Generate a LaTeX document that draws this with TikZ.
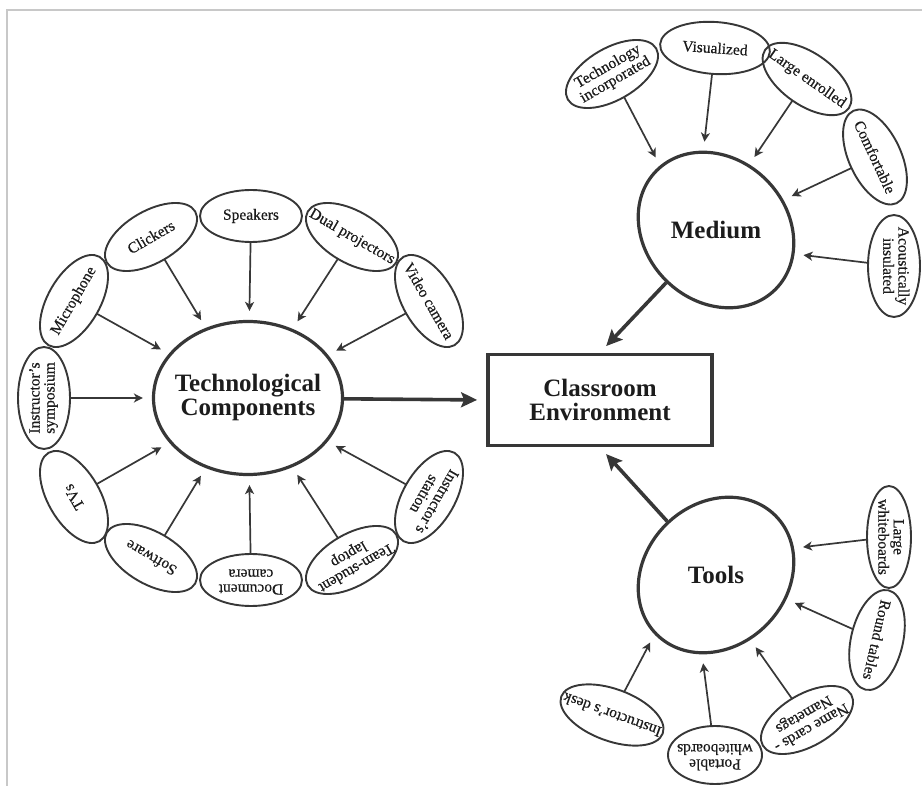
\documentclass[tikz,border=0pt]{standalone}
\usepackage{fontspec}
\setmainfont{Liberation Serif}
\newfontfamily\satf{Liberation Serif}[FakeBold=0.5]
\usetikzlibrary{shapes.geometric,arrows.meta}
\definecolor{ink}{RGB}{55,55,55}
\definecolor{txt}{RGB}{28,28,28}
\definecolor{framec}{RGB}{200,200,200}
\newcommand\onel[1]{\makebox[0pt]{#1}}
\newcommand\twol[2]{\makebox[0pt]{\begin{tabular}{@{}c@{}}#1\\#2\end{tabular}}}
\begin{document}
\begin{tikzpicture}[x=1pt,y=-1pt,
  sat/.style={ellipse, draw=ink, line width=1.9pt, inner sep=0pt, outer sep=0pt,
    minimum width=102pt, minimum height=52pt, text=txt,
    font=\satf\fontsize{15.5}{15}\selectfont},
  hub/.style={ellipse, draw=ink, line width=3.2pt, inner sep=0pt, text=txt,
    font=\bfseries\fontsize{25}{24}\selectfont},
  hubtext/.style={text=txt, inner sep=0pt, font=\bfseries\fontsize{25}{24}\selectfont},
  arr/.style={draw=ink, line width=1.7pt, -{Stealth[length=9pt,width=9pt,inset=2.5pt]}, shorten >=9pt},
  bigarr/.style={draw=ink, line width=3.6pt, -{Stealth[length=16pt,width=15pt,inset=3pt]}, shorten >=9pt},
]
\useasboundingbox (0,0) rectangle (922,786);
\draw[framec, line width=1.5pt] (7,786) -- (7,10) -- (922,10);

% hubs
\node[hub, minimum width=189pt, minimum height=153pt] (tc) at (248,398) {\twol{Technological}{Components}};
\node[draw=ink, line width=3.8pt, minimum width=224pt, minimum height=91pt, align=center,
      hubtext] (box) at (600,400) {Classroom\\Environment};
\node[hub, minimum width=168pt, minimum height=142pt, rotate=-45] (med) at (716,230) {};
\node[hubtext] (medt) at (med) {Medium};
\node[hub, minimum width=168pt, minimum height=142pt, rotate=45] (tools) at (716,575) {};
\node[hubtext] (toolst) at (tools) {Tools};

% technological components satellites
\node[sat, rotate=0] (spk) at (251,216) {\onel{Speakers}};
\node[sat, rotate=30] (clk) at (151,237) {\onel{Clickers}};
\node[sat, rotate=-30] (dual) at (352,237) {\onel{Dual projectors}};
\node[sat, rotate=60] (mic) at (74,301) {\onel{Microphone}};
\node[sat, rotate=-60] (vid) at (429,301) {\onel{Video camera}};
\node[sat, rotate=90] (sym) at (44,398) {\twol{Instructor’s}{symposium}};
\node[sat, rotate=120] (tvs) at (74,497) {\onel{TVs}};
\node[sat, rotate=150] (soft) at (151,558) {\onel{Software}};
\node[sat, rotate=180] (doc) at (251,580) {\twol{Document}{camera}};
\node[sat, rotate=-150] (team) at (352,560) {\twol{Team-student}{laptop}};
\node[sat, rotate=-120] (ista) at (429,497) {\twol{Instructor’s}{station}};

% medium satellites
\node[sat, rotate=30] (tech) at (612,74) {\twol{Technology}{incorporated}};
\node[sat, rotate=-4, minimum width=110pt] (vis) at (715,48) {\onel{Visualized}};
\node[sat, rotate=-35] (large) at (807,79) {\onel{Large enrolled}};
\node[sat, rotate=-65] (comf) at (875,157) {\onel{Comfortable}};
\node[sat, rotate=-90] (acou) at (894,266) {\twol{Acoustically}{insulated}};

% tools satellites
\node[sat, rotate=-90, minimum height=44pt] (lwb) at (889,537) {\twol{Large}{whiteboards}};
\node[sat, rotate=-103] (round) at (877,640) {\onel{Round tables}};
\node[sat, rotate=-150] (name) at (807,720) {\twol{Name cards -}{Nametags}};
\node[sat, rotate=180, minimum width=94pt, minimum height=58pt] (port) at (715,755) {\twol{Portable}{whiteboards}};
\node[sat, rotate=160, minimum width=108pt, minimum height=52pt] (idesk) at (612,715) {\onel{Instructor’s desk}};

% arrows
\foreach \s in {spk,clk,dual,mic,vid,sym,tvs,soft,doc,team,ista}
  \draw[arr] (\s) -- (tc);
\draw[arr] (tech) -- (med.176);
\draw[arr] (vis) -- (med.144);
\draw[arr] (large) -- (med.108);
\draw[arr] (comf) -- (med.69);
\draw[arr] (acou) -- (med.28);
\draw[arr] (lwb) -- (tools.-26);
\draw[arr] (round) -- (tools.-64);
\draw[arr] (name) -- (tools.-107);
\draw[arr] (port) -- (tools.-145);
\draw[arr] (idesk) -- (tools.179);

\draw[bigarr] (tc) -- (box.west);
\draw[bigarr] (med) -- (box.north);
\draw[bigarr] (tools) -- (box.south);
\end{tikzpicture}
\end{document}
